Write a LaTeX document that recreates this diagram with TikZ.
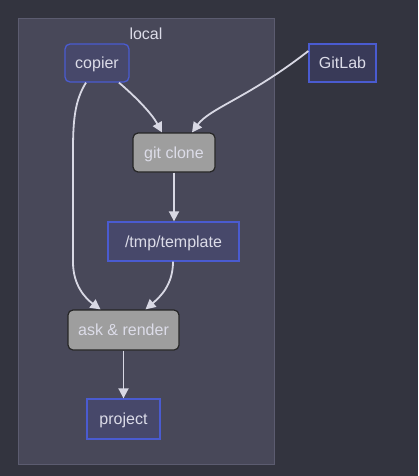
\documentclass[tikz,border=0pt]{standalone}
\usepackage{fontspec}
\setmainfont{Liberation Sans}
\usetikzlibrary{arrows.meta}
\definecolor{bg}{HTML}{33343F}
\definecolor{clfill}{HTML}{484859}
\definecolor{clborder}{HTML}{5C5C70}
\definecolor{nfill}{HTML}{47486A}
\definecolor{gfill}{HTML}{393A58}
\definecolor{nborder}{HTML}{4A5BD0}
\definecolor{grayfill}{HTML}{9E9E9E}
\definecolor{grayborder}{HTML}{262626}
\definecolor{txt}{HTML}{DCDCE8}
\definecolor{edge}{HTML}{D8D8E4}
\tikzset{
  lbltext/.style={text=txt, inner sep=0pt, font=\fontsize{16}{19}\selectfont, text height=13.5pt, text depth=2pt},
  box/.style={lbltext, draw=nborder, line width=1.3pt, fill=nfill},
  gbox/.style={lbltext, draw=grayborder, line width=1.2pt, fill=grayfill, rounded corners=5pt},
  conn/.style={draw=edge, line width=1.8pt, -{Triangle[length=10pt,width=10pt]}},
}
\begin{document}
\begin{tikzpicture}[x=1pt,y=-1pt]
\useasboundingbox[fill=bg] (0,0) rectangle (418,476);
\node[draw=clborder, line width=1pt, fill=clfill, minimum width=256pt, minimum height=445pt, inner sep=0pt] (cluster) at (146,241.5) {};
\node[lbltext] (lbl) at (146,34) {local};
\node[box, rounded corners=5pt, minimum width=64pt, minimum height=38pt] (copier) at (97,63) {copier};
\node[box, fill=gfill, minimum width=67pt, minimum height=38pt] (gitlab) at (342.5,63) {GitLab};
\node[gbox, minimum width=82pt, minimum height=39pt] (clone) at (174,152.5) {git clone};
\node[box, minimum width=131pt, minimum height=39pt] (tmpl) at (173.5,241.5) {/tmp/template};
\node[gbox, minimum width=111pt, minimum height=40pt] (ask) at (123.5,330) {ask \& render};
\node[box, minimum width=73pt, minimum height=40pt] (proj) at (123.5,419) {project};

\draw[conn] ([xshift=22pt]copier.south) .. controls (137,98) and (152,114) .. ([xshift=-12pt]clone.north);
\draw[conn] ([yshift=12pt]gitlab.west) .. controls (248,98) and (210,108) .. ([xshift=18pt]clone.north);
\draw[conn] ([xshift=-11pt]copier.south) .. controls (75,100) and (73,120) .. (73,150) -- (73,262) .. controls (73,285) and (85,298) .. ([xshift=-23pt]ask.north);
\draw[conn] ([xshift=-0.5pt]tmpl.south) .. controls (173,285) and (160,297) .. ([xshift=22pt]ask.north);
\draw[conn] (clone.south) -- (clone.south |- tmpl.north);
\draw[conn] (ask.south) -- (proj.north);
\end{tikzpicture}
\end{document}
